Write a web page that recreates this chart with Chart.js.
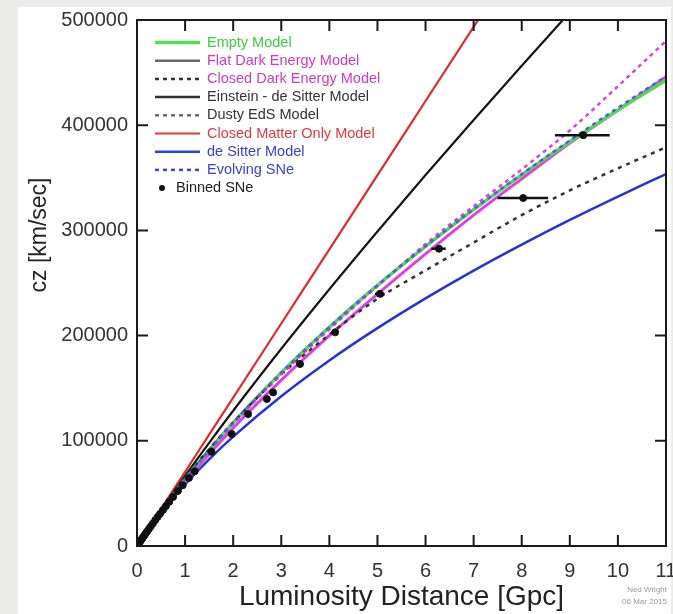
<!DOCTYPE html>
<html>
<head>
<meta charset="utf-8">
<script src="https://cdn.jsdelivr.net/npm/chart.js@4.4.1/dist/chart.umd.min.js"></script>
<style>
  html, body { margin: 0; padding: 0; background: #ecece9; }
  #wrap { width: 673px; height: 614px; }
</style>
</head>
<body>
<div id="wrap"><canvas id="myChart" width="673" height="614"></canvas></div>
<script>
// luminosity distance grid [Gpc] and cz [km/sec] for each model
const distance = [0, 0.5, 1, 1.5, 2, 3, 4, 5, 6, 7, 8, 9, 10, 11];
const emptyModel = [0, 33200, 63400, 91200, 117200, 164800, 208000, 247800, 284900, 319800, 352800, 384200, 414300, 442800];
const flatDarkEnergy = [0, 32300, 61100, 87300, 112300, 157700, 199900, 239400, 277600, 314500, 349000, 383000, 414500, 446000];
const closedDarkEnergy = [0, 33000, 63000, 90500, 116000, 163000, 206000, 247000, 287000, 323000, 358000, 395000, 437000, 480000];
const einsteinDeSitter = [0, 34100, 66700, 98100, 128600, 187500, 244100, 299000, 352600, 405000, 456600, 507300, 557400, 606800];
const dustyEdS = [0, 33500, 64500, 92000, 117500, 163000, 201000, 235000, 262000, 288500, 314500, 338000, 359000, 379000];
const closedMatterOnly = [0, 35300, 70500, 105800, 141000, 211500, 282000, 352500, 423000, 493500, 564000, 634500, 705000, 775500];
const deSitter = [0, 31700, 58600, 82400, 104000, 142400, 176400, 207100, 235400, 261800, 286500, 310000, 332200, 353600];
const evolvingSNe = [0, 33200, 63400, 91200, 117200, 164800, 208000, 247800, 285000, 320200, 353500, 385500, 416500, 446500];

// binned supernovae
const snDistance = [0.02, 0.04, 0.06, 0.08, 0.1, 0.12, 0.15, 0.18, 0.21, 0.25, 0.29, 0.33, 0.38, 0.43, 0.48, 0.54, 0.6, 0.67, 0.75, 0.85, 0.95, 1.08, 1.2,
    1.55, 1.97, 2.31, 2.7, 2.83, 3.39, 4.12, 5.05, 6.28, 8.03, 9.28];
const snCz = [1350, 2700, 4000, 5300, 6650, 7950, 9900, 11900, 13800, 16400, 18900, 21400, 24600, 27700, 30700, 34300, 37900, 42000, 46600, 52300, 57800, 64700, 71000,
    89500, 106400, 125400, 139700, 146000, 173000, 203100, 239700, 282600, 330800, 390500];
// horizontal error bars
const barCz = [239700, 282600, 330800, 390500];
const barLow = [4.95, 6.12, 7.5, 8.69];
const barHigh = [5.15, 6.42, 8.55, 9.83];

const xTicks = [0, 1, 2, 3, 4, 5, 6, 7, 8, 9, 10, 11];
const yTicks = [0, 100000, 200000, 300000, 400000, 500000];

const FONT = "'Liberation Sans', Arial, Helvetica, sans-serif";

function curve(ys) {
    return distance.map((d, i) => ({ x: d, y: ys[i] }));
}

function modelLine(label, ys, color, width, dash, order) {
    return {
        label: label,
        data: curve(ys),
        showLine: true,
        borderColor: color,
        backgroundColor: color,
        borderWidth: width,
        borderDash: dash,
        pointRadius: 0,
        cubicInterpolationMode: 'monotone',
        order: order
    };
}

const datasets = [
    modelLine('Closed Matter Only Model', closedMatterOnly, '#e22a2a', 2.2, [], 9),
    modelLine('Einstein - de Sitter Model', einsteinDeSitter, '#151515', 2.2, [], 8),
    modelLine('de Sitter Model', deSitter, '#2733d8', 2.5, [], 7),
    modelLine('Flat Dark Energy Model', flatDarkEnergy, '#e040e0', 3, [], 6),
    modelLine('Empty Model', emptyModel, '#52d852', 3.5, [], 5),
    modelLine('Dusty EdS Model', dustyEdS, '#333333', 2.5, [4, 5], 4),
    modelLine('Closed Dark Energy Model', closedDarkEnergy, '#d844d8', 2.5, [4, 4], 3),
    modelLine('Evolving SNe', evolvingSNe, '#5060dd', 2.5, [4, 4], 2)
];

barCz.forEach((cz, i) => {
    datasets.push({
        label: 'err' + i,
        data: [{ x: barLow[i], y: cz }, { x: barHigh[i], y: cz }],
        showLine: true,
        borderColor: '#111',
        borderWidth: 2.5,
        pointRadius: 0,
        order: 1
    });
});

datasets.push({
    label: 'Binned SNe',
    data: snDistance.map((d, i) => ({ x: d, y: snCz[i] })),
    pointRadius: 3.5,
    pointBackgroundColor: '#111',
    pointBorderColor: '#111',
    order: 0
});

const legendRows = [
    { text: 'Empty Model', line: '#55dd55', color: '#3ccc3c', dash: [], width: 3.5 },
    { text: 'Flat Dark Energy Model', line: '#666666', color: '#cc3acc', dash: [], width: 2.5 },
    { text: 'Closed Dark Energy Model', line: '#333333', color: '#cc3acc', dash: [4, 4], width: 2.5 },
    { text: 'Einstein - de Sitter Model', line: '#333333', color: '#333333', dash: [], width: 2.5 },
    { text: 'Dusty EdS Model', line: '#666666', color: '#333333', dash: [4, 4], width: 2.5 },
    { text: 'Closed Matter Only Model', line: '#e33a3a', color: '#e03a3a', dash: [], width: 2 },
    { text: 'de Sitter Model', line: '#3040dd', color: '#3a40cc', dash: [], width: 2.5 },
    { text: 'Evolving SNe', line: '#3a44dd', color: '#3a44cc', dash: [4, 4], width: 2.5 },
    { text: 'Binned SNe', dot: true, color: '#222222' }
];

const paperPlugin = {
    id: 'paper',
    beforeDraw(chart) {
        const ctx = chart.ctx;
        ctx.save();
        ctx.fillStyle = '#ecece9';
        ctx.fillRect(0, 0, chart.width, chart.height);
        ctx.fillStyle = '#ffffff';
        ctx.fillRect(18, 7, chart.width - 20, chart.height - 7);
        ctx.restore();
    }
};

const framePlugin = {
    id: 'frame',
    afterDatasetsDraw(chart) {
        const ctx = chart.ctx;
        const a = chart.chartArea;
        const xs = chart.scales.x, ys = chart.scales.y;
        ctx.save();
        ctx.strokeStyle = '#1a1a1a';
        ctx.lineWidth = 2;
        ctx.beginPath();
        xTicks.forEach(v => {
            const px = xs.getPixelForValue(v);
            ctx.moveTo(px, a.bottom); ctx.lineTo(px, a.bottom - 11);
            ctx.moveTo(px, a.top); ctx.lineTo(px, a.top + 11);
        });
        yTicks.forEach(v => {
            const py = ys.getPixelForValue(v);
            ctx.moveTo(a.left, py); ctx.lineTo(a.left + 11, py);
            ctx.moveTo(a.right, py); ctx.lineTo(a.right - 11, py);
        });
        ctx.stroke();
        ctx.strokeRect(a.left, a.top, a.right - a.left, a.bottom - a.top);
        ctx.restore();
    },
    afterDraw(chart) {
        const ctx = chart.ctx;
        const a = chart.chartArea;
        ctx.save();
        // legend
        ctx.font = '14.5px ' + FONT;
        ctx.textBaseline = 'middle';
        legendRows.forEach((row, i) => {
            const y = a.top + 22.5 + 18.2 * i;
            if (row.dot) {
                ctx.fillStyle = '#111';
                ctx.beginPath();
                ctx.arc(a.left + 25, y, 3, 0, Math.PI * 2);
                ctx.fill();
                ctx.fillStyle = row.color;
                ctx.fillText(row.text, a.left + 39, y);
                return;
            }
            ctx.strokeStyle = row.line;
            ctx.lineWidth = row.width;
            ctx.setLineDash(row.dash);
            ctx.beginPath();
            ctx.moveTo(a.left + 18, y);
            ctx.lineTo(a.left + 63, y);
            ctx.stroke();
            ctx.setLineDash([]);
            ctx.fillStyle = row.color;
            ctx.fillText(row.text, a.left + 70, y);
        });
        // y title
        ctx.save();
        ctx.translate(40, 235);
        ctx.rotate(-Math.PI / 2);
        ctx.font = '23px ' + FONT;
        ctx.fillStyle = '#222';
        ctx.textAlign = 'center';
        ctx.fillText('cz [km/sec]', 0, 0);
        ctx.restore();
        // credit
        ctx.font = '8px ' + FONT;
        ctx.fillStyle = '#999';
        ctx.textAlign = 'right';
        ctx.fillText('Ned Wright', 667, 590);
        ctx.fillText('06 Mar 2015', 667, 602);
        ctx.restore();
    }
};

const ctx = document.getElementById('myChart');

new Chart(ctx, {
    type: 'scatter',
    data: { datasets: datasets },
    plugins: [paperPlugin, framePlugin],
    options: {
        responsive: false,
        animation: false,
        layout: { padding: { left: 0, right: 7, top: 20, bottom: 0 } },
        plugins: {
            legend: { display: false },
            tooltip: { enabled: false }
        },
        scales: {
            x: {
                type: 'linear',
                min: 0,
                max: 11,
                afterBuildTicks: (s) => { s.ticks = xTicks.map(v => ({ value: v })); },
                ticks: {
                    font: { size: 20, family: FONT },
                    color: '#333',
                    padding: 13,
                    maxRotation: 0,
                    autoSkip: false,
                    callback: (v) => String(v)
                },
                grid: { display: false, drawTicks: false },
                border: { display: false },
                title: {
                    display: true,
                    text: 'Luminosity Distance [Gpc]',
                    font: { size: 28, family: FONT },
                    color: '#222',
                    padding: { top: 0, bottom: 0 }
                },
                afterFit: (s) => { s.height = 68; s.paddingLeft = 0; s.paddingRight = 0; }
            },
            y: {
                min: 0,
                max: 500000,
                afterBuildTicks: (s) => { s.ticks = yTicks.map(v => ({ value: v })); },
                ticks: {
                    font: { size: 20, family: FONT },
                    color: '#333',
                    padding: 9,
                    callback: (v) => String(v)
                },
                grid: { display: false, drawTicks: false },
                border: { display: false },
                afterFit: (s) => { s.width = 137; s.paddingTop = 0; s.paddingBottom = 0; }
            }
        }
    }
});
</script>
</body>
</html>
